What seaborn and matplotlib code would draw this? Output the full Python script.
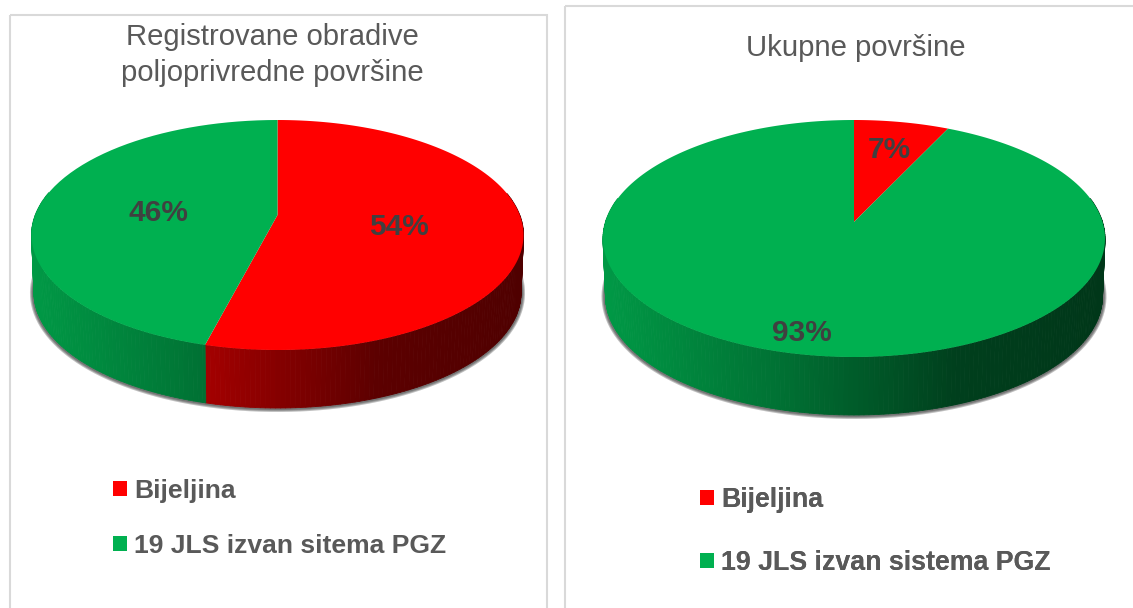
import numpy as np
import matplotlib
matplotlib.use('Agg')
import matplotlib.pyplot as plt
import seaborn as sns
from matplotlib.collections import PolyCollection
from matplotlib.patches import Rectangle
from matplotlib.path import Path
from matplotlib.transforms import Transform

left_title = 'Registrovane obradive\npoljoprivredne površine'
right_title = 'Ukupne površine'
left_labels = ['Bijeljina', '19 JLS izvan sitema PGZ']
right_labels = ['Bijeljina', '19 JLS izvan sistema PGZ']
left_values = [54, 46]
right_values = [7, 93]
pie_colors = ['#FF0000', '#00B050']
legend_colors = ['#FF0000', '#00B050']

TEXT_GREY = '#595959'
PCT_GREY = '#404040'
DEPTH = 58


class PieTilt(Transform):
    """Perspective map of the unit pie onto a tilted disc, in pixel coords."""
    input_dims = 2
    output_dims = 2

    def __init__(self, tip_x, tip_y, half_width, up, down):
        super().__init__()
        self.tip_x = tip_x
        self.tip_y = tip_y
        self.k = (up - down) / (up + down)
        self.a = up * (1 - self.k)
        self.c = half_width * np.sqrt(1 - self.k ** 2)

    def transform_non_affine(self, values):
        values = np.asarray(values, dtype=float)
        w = 1 - self.k * values[:, 1]
        return np.column_stack([self.tip_x + self.c * values[:, 0] / w,
                                self.tip_y - self.a * values[:, 1] / w])

    def transform_path_non_affine(self, path):
        # flatten the curves first, a bezier does not survive perspective
        pts = []
        for curve, code in path.iter_bezier():
            if code == Path.MOVETO:
                continue
            pts.append(curve(np.linspace(0, 1, 16)))
        return Path(self.transform_non_affine(np.concatenate(pts)))


def side_shade(u):
    return np.interp(u, [0, 0.35, 0.7, 1], [0.87, 0.64, 0.36, 0.31])


def draw_pie(ax, values, tilt, pct_dist, pct_drop):
    wedges, _, pcts = ax.pie(values, colors=pie_colors, startangle=90, counterclock=False,
                             autopct='%1.0f%%', wedgeprops=dict(linewidth=0),
                             textprops=dict(color=PCT_GREY, fontsize=21.5, fontweight='bold'))
    left_x = tilt.tip_x - tilt.c / np.sqrt(1 - tilt.k ** 2)
    span = 2 * tilt.c / np.sqrt(1 - tilt.k ** 2)

    for wedge, color in zip(wedges, pie_colors):
        wedge.set_transform(tilt + ax.transData)
        wedge.set_zorder(3)

        # side wall, one thin quad per degree
        th = np.radians(np.arange(wedge.theta1, wedge.theta2 + 1))
        th = np.append(th[th < np.radians(wedge.theta2)], np.radians(wedge.theta2))
        rim = tilt.transform_non_affine(np.column_stack([np.cos(th), np.sin(th)]))
        low = rim.copy()
        low[:, 0] = tilt.tip_x + (rim[:, 0] - tilt.tip_x) * 0.99
        low[:, 1] += DEPTH
        quads, shades = [], []
        base = np.array(matplotlib.colors.to_rgb(color))
        for i in range(len(th) - 1):
            if np.sin((th[i] + th[i + 1]) / 2) > 0.2:
                continue
            quads.append([rim[i], rim[i + 1], low[i + 1], low[i]])
            shades.append(base * side_shade((rim[i, 0] - left_x) / span))
        if quads:
            ax.add_collection(PolyCollection(quads, facecolors=shades, edgecolors=shades,
                                             linewidths=0.6, zorder=2))

    # soft shadow under the front rim
    th = np.radians(np.linspace(172, 368, 200))
    rim = tilt.transform_non_affine(np.column_stack([np.cos(th), np.sin(th)]))
    rim[:, 0] = tilt.tip_x + (rim[:, 0] - tilt.tip_x) * 0.99
    rim[:, 1] += DEPTH
    for lw in [8, 6, 4]:
        ax.plot(rim[:, 0], rim[:, 1], color='#303030', alpha=0.3, lw=lw * 0.72, zorder=1,
                solid_capstyle='round')

    for pct, wedge, dist in zip(pcts, wedges, pct_dist):
        mid = np.radians((wedge.theta1 + wedge.theta2) / 2)
        pos = tilt.transform_non_affine(np.array([[dist * np.cos(mid), dist * np.sin(mid)]]))[0]
        pct.set_position((pos[0], pos[1] + pct_drop))
        pct.set_zorder(5)
    return wedges


def add_legend(ax, labels, anchor, spacing, size):
    handles = [Rectangle((0, 0), 1, 1, facecolor=c, edgecolor='none') for c in legend_colors]
    leg = ax.legend(handles, labels, loc='upper left', bbox_to_anchor=anchor,
                    bbox_transform=ax.transData, frameon=False, borderpad=0, borderaxespad=0,
                    handlelength=0.53, handleheight=0.53, handletextpad=0.27,
                    labelspacing=spacing,
                    prop=dict(family='Liberation Sans', weight='bold', size=size),
                    labelcolor=TEXT_GREY)
    ax.add_artist(leg)


sns.set_theme(style='white')
plt.rcParams['font.family'] = ['Liberation Sans', 'DejaVu Sans']

fig = plt.figure(figsize=(11.33, 6.08), dpi=100)
ax = fig.add_axes([0, 0, 1, 1])

draw_pie(ax, left_values, PieTilt(277.5, 215, 246, 95, 135), [0.5, 0.5], 5)
draw_pie(ax, right_values, PieTilt(854, 222, 251, 102, 135), [0.72, 0.85], 2.5)

ax.set_aspect('auto')
ax.set_xlim(0, 1133)
ax.set_ylim(608, 0)
ax.axis('off')

# panel frames run off the bottom and right of the picture
ax.add_patch(Rectangle((9.5, 14.5), 537.5, 620, fill=False, edgecolor='#D9D9D9', lw=1.5, zorder=0))
ax.add_patch(Rectangle((565, 6), 620, 640, fill=False, edgecolor='#D9D9D9', lw=1.5, zorder=0))

ax.text(272, 55, left_title, ha='center', va='center', fontsize=21.1, color=TEXT_GREY, linespacing=1.4)
ax.text(856, 48, right_title, ha='center', va='center', fontsize=21.1, color=TEXT_GREY)

add_legend(ax, left_labels, (113, 479), 1.17, 19.05)
add_legend(ax, right_labels, (700, 487), 1.38, 19.25)

fig.savefig('out.png', dpi=100)
